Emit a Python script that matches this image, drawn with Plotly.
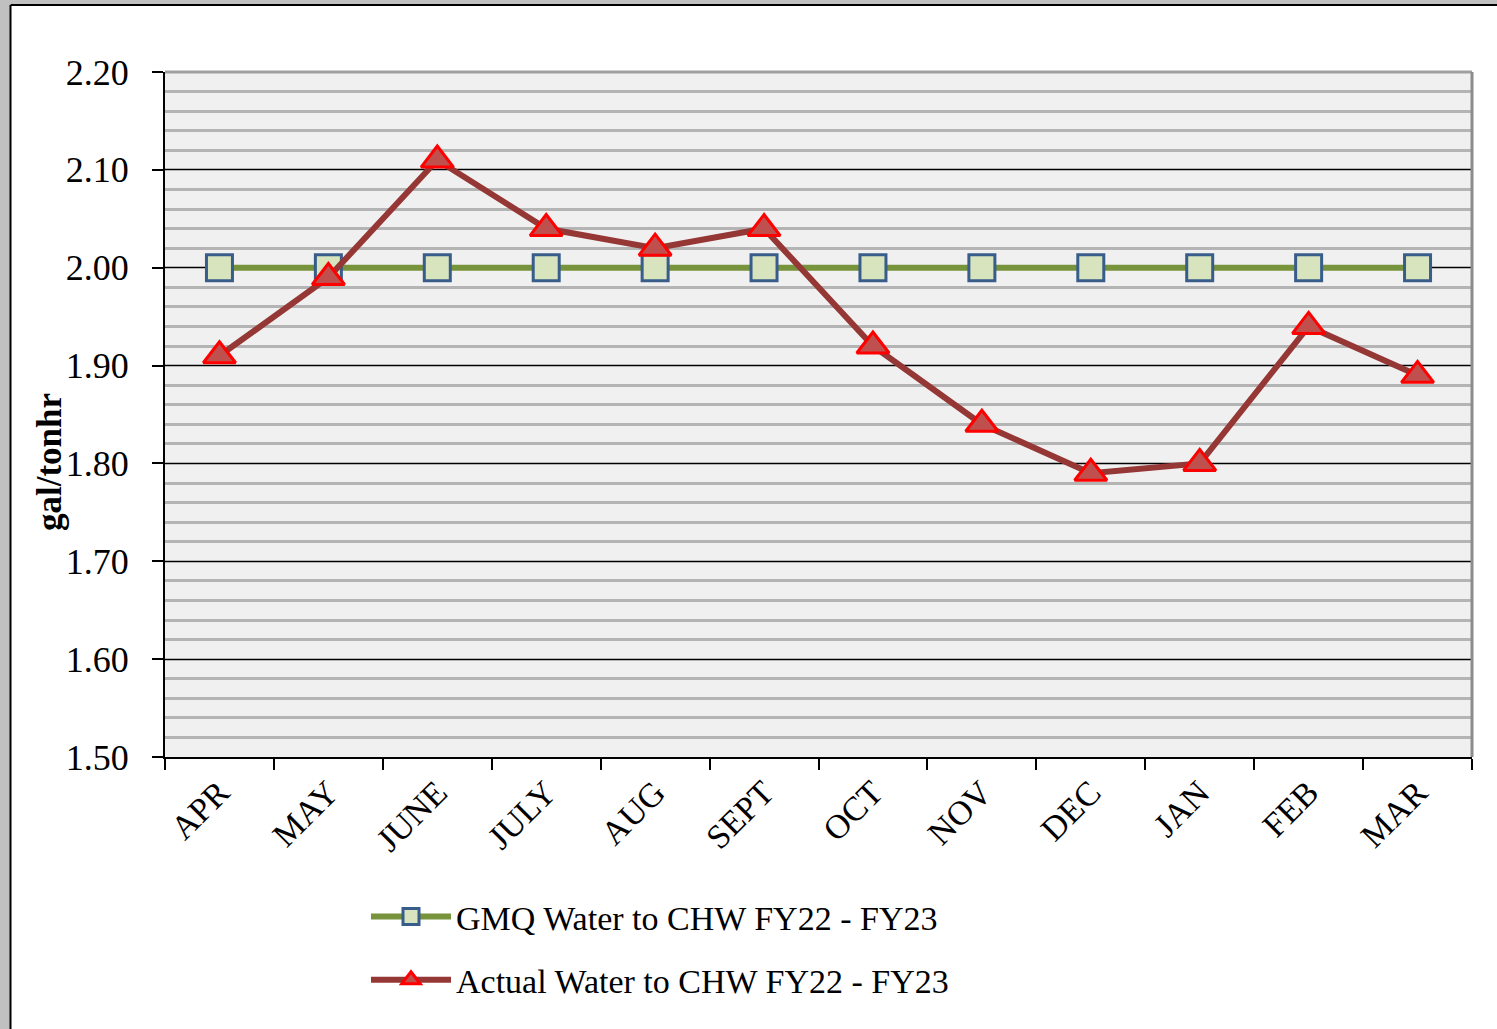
import plotly.graph_objects as go

months = ["APR", "MAY", "JUNE", "JULY", "AUG", "SEPT", "OCT", "NOV", "DEC", "JAN", "FEB", "MAR"]
gmq = [2.00, 2.00, 2.00, 2.00, 2.00, 2.00, 2.00, 2.00, 2.00, 2.00, 2.00, 2.00]
actual = [1.91, 1.99, 2.11, 2.04, 2.02, 2.04, 1.92, 1.84, 1.79, 1.80, 1.94, 1.89]
y_ticks = [1.50, 1.60, 1.70, 1.80, 1.90, 2.00, 2.10, 2.20]
y_tick_text = ["%.2f" % v for v in y_ticks]

FONT = "Liberation Serif"
W, H = 1497, 1029
L, R, T, B = 165, 1472, 72, 757


def px(xp):
    return (xp - L) / (R - L)


def py(yp):
    return (B - yp) / (B - T)


fig = go.Figure()
fig.add_trace(go.Scatter(
    x=months, y=gmq, mode="lines+markers", name="GMQ Water to CHW FY22 - FY23",
    line=dict(color="#77933c", width=6),
    marker=dict(symbol="square", size=26, color="#d7e4bd",
                line=dict(color="#385d8a", width=3)),
    legendgroup="a",
))
fig.add_trace(go.Scatter(
    x=months, y=actual, mode="lines+markers", name="Actual Water to CHW FY22 - FY23",
    line=dict(color="#953735", width=6),
    marker=dict(symbol="triangle-up", size=28, color="#c0504d",
                line=dict(color="#ff0000", width=3)),
    legendgroup="b",
))

shapes = [
    # window frame
    dict(type="rect", xref="paper", yref="paper", x0=px(0), x1=px(10), y0=py(1029), y1=py(0),
         fillcolor="#c0c0c0", line=dict(width=0), layer="below"),
    dict(type="rect", xref="paper", yref="paper", x0=px(0), x1=px(1497), y0=py(4), y1=py(0),
         fillcolor="#c0c0c0", line=dict(width=0), layer="below"),
    dict(type="line", xref="paper", yref="paper", x0=px(10.5), x1=px(10.5), y0=py(1029), y1=py(5),
         line=dict(color="black", width=2)),
    dict(type="line", xref="paper", yref="paper", x0=px(10.5), x1=px(1497), y0=py(5), y1=py(5),
         line=dict(color="black", width=2)),
    # plot border top & right
    dict(type="line", xref="paper", yref="paper", x0=0, x1=1, y0=1, y1=1,
         line=dict(color="#a0a0a0", width=3)),
    dict(type="line", xref="paper", yref="paper", x0=1, x1=1, y0=0, y1=1,
         line=dict(color="#8c8c8c", width=3)),
]

fig.update_layout(
    width=W, height=H,
    margin=dict(l=L, r=W - R, t=T, b=H - B),
    paper_bgcolor="white",
    plot_bgcolor="#f0f0f0",
    font=dict(family=FONT, color="black", size=33),
    showlegend=True,
    legend=dict(
        x=px(366), y=py(888), xanchor="left", yanchor="top",
        font=dict(family=FONT, size=34, color="black"),
        bgcolor="rgba(0,0,0,0)", itemwidth=80, tracegroupgap=16,
        traceorder="grouped",
    ),
    shapes=shapes,
    annotations=[dict(
        text="<b>gal/tonhr</b>", xref="paper", yref="paper", x=px(49), y=py(462),
        xanchor="center", yanchor="middle", textangle=-90, showarrow=False,
        font=dict(family=FONT, size=35, color="black"),
    )],
    xaxis=dict(
        type="category", range=[-0.5, 11.5], tickson="boundaries",
        showgrid=False, ticks="outside", ticklen=11, tickwidth=1.5, tickcolor="black",
        showline=True, linecolor="black", linewidth=2,
        tickangle=-45, tickfont=dict(family=FONT, size=34, color="black"),
        fixedrange=True,
    ),
    yaxis=dict(
        range=[1.50, 2.20], tickvals=y_ticks, ticktext=y_tick_text,
        showgrid=True, gridcolor="black", gridwidth=1,
        minor=dict(dtick=0.02, tick0=1.50, showgrid=True, gridcolor="#b4b4b4", gridwidth=3),
        ticks="outside", ticklen=11, tickwidth=1.5, tickcolor="black",
        showline=True, linecolor="black", linewidth=2, zeroline=False,
        tickfont=dict(family=FONT, size=36, color="black"),
        ticklabelstandoff=16,
        fixedrange=True,
    ),
)

fig.write_html("out.html", config={"displayModeBar": False},
               post_script="document.body.style.margin='0';document.body.style.padding='0';")
